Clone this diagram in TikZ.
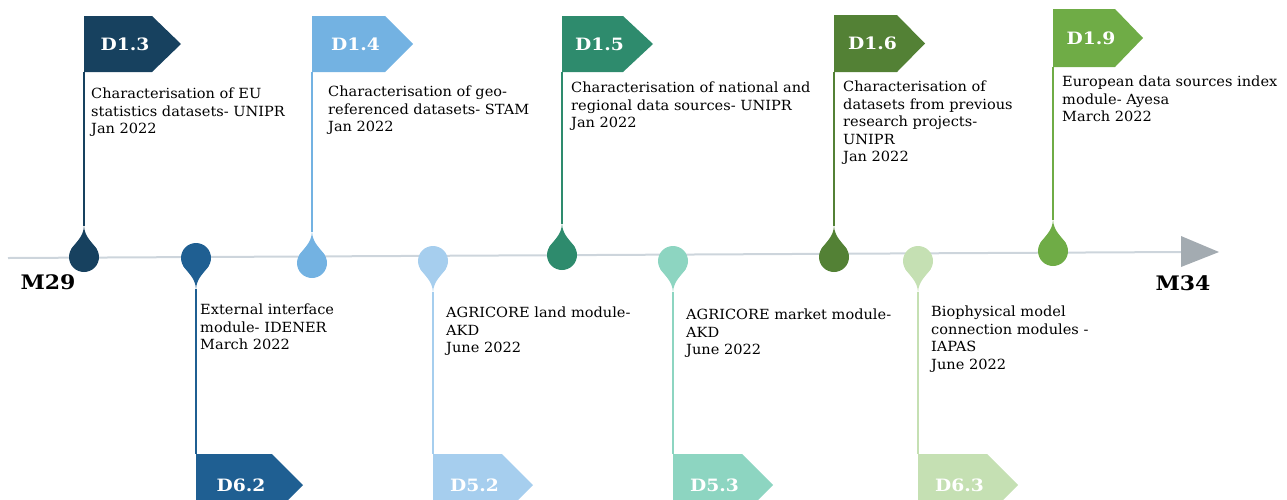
\documentclass[tikz,border=0pt]{standalone}
\usepackage{fontspec}
\setmainfont{DejaVu Serif}
\newfontfamily\descfont[FakeStretch=1.04]{DejaVu Serif}
\newfontfamily\labelfont[FakeStretch=1.1]{DejaVu Serif}
\definecolor{c13}{HTML}{17415F}
\definecolor{c14}{HTML}{73B2E2}
\definecolor{c15}{HTML}{2E8B6D}
\definecolor{c16}{HTML}{538135}
\definecolor{c19}{HTML}{6FAC46}
\definecolor{c62}{HTML}{1F5F92}
\definecolor{c52}{HTML}{A6CEEE}
\definecolor{c53}{HTML}{8DD5C1}
\definecolor{c63}{HTML}{C5E0B3}
\definecolor{axisline}{HTML}{CDD5DC}
\definecolor{axishead}{HTML}{A3ABB1}
\tikzset{
  desc/.style={anchor=north west, inner sep=0pt, align=left, font=\descfont\fontsize{14}{17.5}\selectfont, text=black},
  flaglabel/.style={inner sep=0pt, font=\labelfont\fontsize{17}{19}\selectfont\bfseries, text=white},
  milestone/.style={inner sep=0pt, font=\labelfont\fontsize{20}{22}\selectfont\bfseries, text=black},
  pole/.style={line width=1.5pt},
}
% drop: name, x, y, colour, direction (1 = tail up, -1 = tail down)
\newcommand\tdrop[5]{%
  \begin{scope}[shift={(#2,#3)}, yscale=#5]
    \fill[#4] (0,0) circle (15);
    \fill[#4] (0,-32) .. controls (0,-20) and (9.2,-14) .. (13,-7.5) -- (0,0) -- (-13,-7.5) .. controls (-9.2,-14) and (0,-20) .. cycle;
    \coordinate (#1) at (0,-31);
  \end{scope}}
% flag: name, x, top, bottom, rect right, tip, colour, label
\newcommand\tflag[8]{%
  \fill[#7] (#2,#3) -- (#5,#3) -- (#6,{(#3+#4)/2}) -- (#5,#4) -- (#2,#4) -- cycle;
  \node[flaglabel] (#1) at ({(#2+#5)/2+7},{(#3+#4)/2}) {#8};}
\begin{document}
\begin{tikzpicture}[x=1pt,y=-1pt]
\useasboundingbox (0,0) rectangle (1287,499);
\clip (0,0) rectangle (1287,499);
% axis
\coordinate (axstart) at (8,258);
\coordinate (axend) at (1182,252);
\draw[axisline, line width=2pt] (axstart) -- (axend);
\fill[axishead] (1181,236) -- (1219,252) -- (1181,267) -- cycle;
\node[milestone] (m29) at (48,282) {M29};
\node[milestone] (m34) at (1183,283) {M34};

% ---- top items ----
\tflag{f13}{84}{16}{72}{152}{181}{c13}{D1.3}
\coordinate (p13) at (84,72);
\tdrop{d13}{84}{257}{c13}{1}
\draw[pole,c13] (p13) -- (d13);
\node[desc] (t13) at (91,88) {Characterisation of EU\\statistics datasets- UNIPR\\Jan 2022};

\tflag{f14}{312}{16}{72}{385}{413}{c14}{D1.4}
\coordinate (p14) at (312,72);
\tdrop{d14}{312}{263}{c14}{1}
\draw[pole,c14] (p14) -- (d14);
\node[desc] (t14) at (328,86) {Characterisation of geo-\\referenced datasets- STAM\\Jan 2022};

\tflag{f15}{562}{16}{72}{623}{653}{c15}{D1.5}
\coordinate (p15) at (562,72);
\tdrop{d15}{562}{255}{c15}{1}
\draw[pole,c15] (p15) -- (d15);
\node[desc] (t15) at (571,82) {Characterisation of national and\\regional data sources- UNIPR\\Jan 2022};

\tflag{f16}{834}{15}{72}{897}{925}{c16}{D1.6}
\coordinate (p16) at (834,72);
\tdrop{d16}{834}{257}{c16}{1}
\draw[pole,c16] (p16) -- (d16);
\node[desc] (t16) at (843,81) {Characterisation of\\datasets from previous\\research projects-\\UNIPR\\Jan 2022};

\tflag{f19}{1053}{9}{67}{1115}{1143}{c19}{D1.9}
\coordinate (p19) at (1053,67);
\tdrop{d19}{1053}{251}{c19}{1}
\draw[pole,c19] (p19) -- (d19);
\node[desc] (t19) at (1062,76) {European data sources index\\module- Ayesa\\March 2022};

% ---- bottom items ----
\tdrop{d62}{196}{258}{c62}{-1}
\tflag{f62}{196}{454}{516}{272}{303}{c62}{D6.2}
\coordinate (p62) at (196,454);
\draw[pole,c62] (d62) -- (p62);
\node[desc] (t62) at (200,304) {External interface\\module- IDENER\\March 2022};

\tdrop{d52}{433}{261}{c52}{-1}
\tflag{f52}{433}{454}{516}{502}{533}{c52}{D5.2}
\coordinate (p52) at (433,454);
\draw[pole,c52] (d52) -- (p52);
\node[desc] (t52) at (446,307) {AGRICORE land module-\\AKD\\June 2022};

\tdrop{d53}{673}{261}{c53}{-1}
\tflag{f53}{673}{454}{516}{742}{773}{c53}{D5.3}
\coordinate (p53) at (673,454);
\draw[pole,c53] (d53) -- (p53);
\node[desc] (t53) at (686,309) {AGRICORE market module-\\AKD\\June 2022};

\tdrop{d63}{918}{261}{c63}{-1}
\tflag{f63}{918}{454}{516}{987}{1018}{c63}{D6.3}
\coordinate (p63) at (918,454);
\draw[pole,c63] (d63) -- (p63);
\node[desc] (t63) at (931,306) {Biophysical model\\connection modules -\\IAPAS\\June 2022};
\end{tikzpicture}
\end{document}
